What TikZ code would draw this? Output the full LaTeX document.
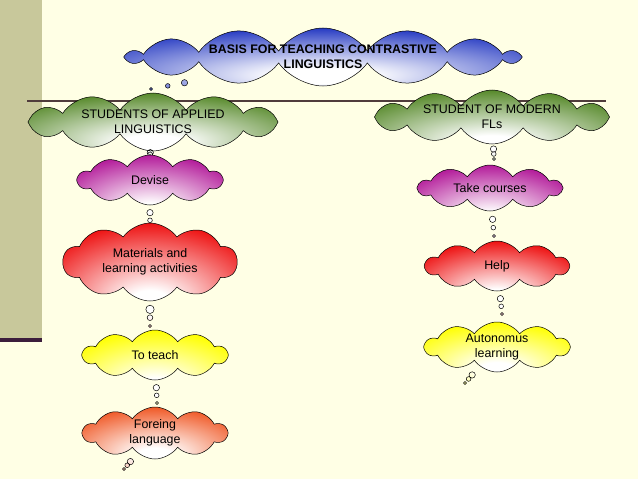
\documentclass[tikz,border=0pt]{standalone}
\usepackage{fontspec}
\setmainfont{Liberation Sans}
\usetikzlibrary{shapes.symbols,shapes.callouts}
\definecolor{slidebg}{RGB}{255,255,229}
\definecolor{stripcol}{RGB}{200,200,155}
\definecolor{striprule}{RGB}{60,30,60}
\definecolor{rulecol}{RGB}{80,60,60}
\definecolor{puffblue}{RGB}{40,60,195}
\definecolor{puffgreen}{RGB}{88,138,44}
\definecolor{puffpink}{RGB}{180,30,155}
\definecolor{puffred}{RGB}{238,20,20}
\definecolor{puffyellow}{RGB}{255,255,0}
\definecolor{pufforange}{RGB}{240,90,40}
\colorlet{cloudout}{puffgreen}
\pgfdeclareradialshading[cloudout]{puffshade}{\pgfpoint{0bp}{-14bp}}{color(0bp)=(white); color(6bp)=(white); color(34bp)=(cloudout); color(100bp)=(cloudout)}
\tikzset{puff/.style={cloud callout,cloud puffs=10,cloud puff arc=110,cloud ignores aspect,
    draw=black,line width=0.5pt,/utils/exec={\colorlet{cloudout}{#1}},shading=puffshade,
    align=center,inner sep=-6pt,callout pointer start size=8pt,callout pointer end size=3pt,
    callout pointer segments=3,font=\fontsize{12.4}{15}\selectfont}}

\begin{document}
\begin{tikzpicture}[x=1pt,y=-1pt]
            \useasboundingbox (0,0) rectangle (638,479);
            \fill[slidebg] (0,0) rectangle (638,479);
            \fill[stripcol] (0,0) rectangle (42,339);
            \fill[striprule] (0,338) rectangle (42,342);
            \draw[rulecol, line width=1.5pt] (27,101) -- (606,101);

            \node[puff=puffblue, cloud puffs=14, minimum width=390pt, minimum height=58pt,
                  callout absolute pointer={(151,89)}] (basis) at (323,57)
                  {\bfseries BASIS FOR TEACHING CONTRASTIVE\\\bfseries LINGUISTICS};
            \node[puff=puffgreen, cloud puffs=12, minimum width=250pt, minimum height=58pt,
                  callout absolute pointer={(150,156)}] (applied) at (153,122)
                  {STUDENTS OF APPLIED\\LINGUISTICS};
            \node[puff=puffgreen, cloud puffs=12, minimum width=235pt, minimum height=54pt,
                  callout absolute pointer={(494,159)}] (modern) at (492,117)
                  {STUDENT OF MODERN\\FLs};

            \node[puff=puffpink, minimum width=144pt, minimum height=50pt,
                  callout absolute pointer={(150,228)}] (devise) at (150,180) {Devise};
            \node[puff=puffred, minimum width=174pt, minimum height=78pt,
                  callout pointer start size=11pt,
                  callout absolute pointer={(150,326)}] (materials) at (150,262)
                  {Materials and\\learning activities};
            \node[puff=puffyellow, minimum width=144pt, minimum height=50pt,
                  callout absolute pointer={(157,403)}] (teach) at (155,355) {To teach};
            \node[puff=pufforange, minimum width=144pt, minimum height=52pt,
                  callout absolute pointer={(124,469)}] (foreing) at (155,433)
                  {Foreing\\language};

            \node[puff=puffpink, minimum width=143pt, minimum height=46pt,
                  callout absolute pointer={(494,236)}] (courses) at (490,188) {Take courses};
            \node[puff=puffred, minimum width=143pt, minimum height=50pt,
                  callout absolute pointer={(502,314)}] (help) at (497,266) {Help};
            \node[puff=puffyellow, minimum width=144pt, minimum height=50pt,
                  callout absolute pointer={(465,383)}] (autonomus) at (497,347)
                  {Autonomus\\learning};
        \end{tikzpicture}
\end{document}
